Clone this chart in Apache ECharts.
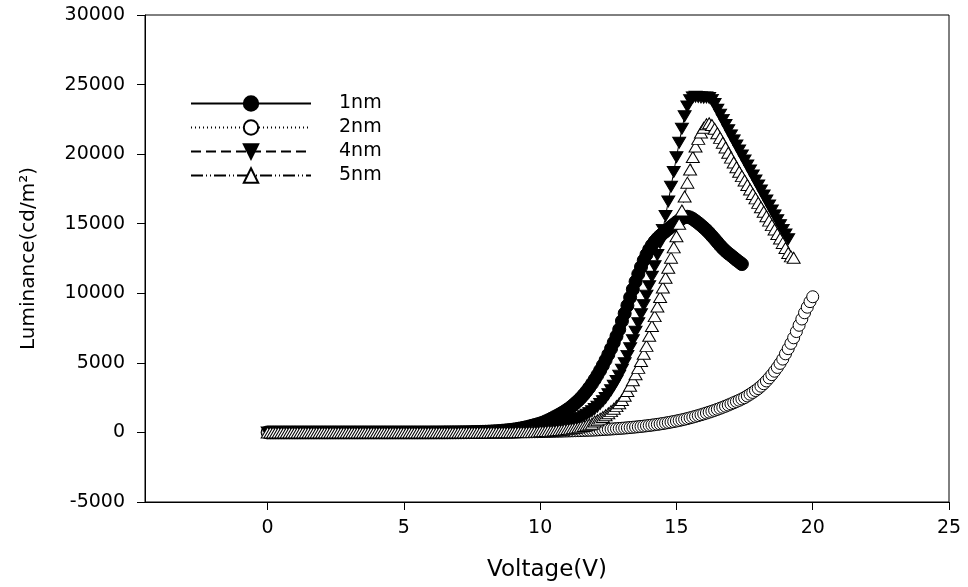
<!DOCTYPE html>
<html><head><meta charset="utf-8">
<script src="https://cdn.jsdelivr.net/npm/echarts@6/dist/echarts.min.js"></script>
<style>html,body{margin:0;padding:0;background:#fff}#c{width:968px;height:587px}</style>
</head><body><div id="c"></div>
<script>
const seriesNames = ['1nm', '2nm', '4nm', '5nm'];
const xTickValues = [0, 5, 10, 15, 20, 25];
const xMin = -4.5, xMax = 25;
const yMin = -5000, yMax = 30000, yStep = 5000;
const xTitle = 'Voltage(V)';
const yTitle = 'Luminance(cd/m²)';

const voltage = [
0,0.1,0.2,0.3,0.4,0.5,0.6,0.7,0.8,0.9,
1,1.1,1.2,1.3,1.4,1.5,1.6,1.7,1.8,1.9,
2,2.1,2.2,2.3,2.4,2.5,2.6,2.7,2.8,2.9,
3,3.1,3.2,3.3,3.4,3.5,3.6,3.7,3.8,3.9,
4,4.1,4.2,4.3,4.4,4.5,4.6,4.7,4.8,4.9,
5,5.1,5.2,5.3,5.4,5.5,5.6,5.7,5.8,5.9,
6,6.1,6.2,6.3,6.4,6.5,6.6,6.7,6.8,6.9,
7,7.1,7.2,7.3,7.4,7.5,7.6,7.7,7.8,7.9,
8,8.1,8.2,8.3,8.4,8.5,8.6,8.7,8.8,8.9,
9,9.1,9.2,9.3,9.4,9.5,9.6,9.7,9.8,9.9,
10,10.1,10.2,10.3,10.4,10.5,10.6,10.7,10.8,10.9,
11,11.1,11.2,11.3,11.4,11.5,11.6,11.7,11.8,11.9,
12,12.1,12.2,12.3,12.4,12.5,12.6,12.7,12.8,12.9,
13,13.1,13.2,13.3,13.4,13.5,13.6,13.7,13.8,13.9,
14,14.1,14.2,14.3,14.4,14.5,14.6,14.7,14.8,14.9,
15,15.1,15.2,15.3,15.4,15.5,15.6,15.7,15.8,15.9,
16,16.1,16.2,16.3,16.4,16.5,16.6,16.7,16.8,16.9,
17,17.1,17.2,17.3,17.4,17.5,17.6,17.7,17.8,17.9,
18,18.1,18.2,18.3,18.4,18.5,18.6,18.7,18.8,18.9,
19,19.1,19.2,19.3,19.4,19.5,19.6,19.7,19.8,19.9,
20
];

const lum1nm = [
0,0,0,0,0,0,0,0,0,0,
0,0,0,0,0,0,0,0,0,0,
0,0,0,0,0,0,0,0,0,0,
0,0,0,0,0,0,0,0,0,0,
0,0,0,0,0,0,0,0,0,0,
0,0,0,0,0,0,0,0,0,0,
1,2,2,3,3,4,5,6,7,8,
10,12,14,17,20,24,28,33,38,44,
50,58,67,78,90,104,120,138,158,178,
200,228,260,296,336,380,428,480,530,585,
640,710,790,880,980,1080,1180,1290,1400,1520,
1650,1790,1950,2120,2300,2500,2720,2960,3220,3500,
3800,4120,4460,4820,5200,5600,6020,6460,6920,7400,
8000,8550,9120,9700,10280,10840,11380,11890,12360,12780,
13150,13460,13720,13940,14130,14300,14460,14620,14780,14940,
15100,15240,15380,15480,15500,15450,15340,15200,15050,14890,
14720,14540,14340,14120,13900,13670,13440,13230,13040,12870,
12720,12560,12400,12250,12100
];

const lum2nm = [
0,0,0,0,0,0,0,0,0,0,
0,0,0,0,0,0,0,0,0,0,
0,0,0,0,0,0,0,0,0,0,
0,0,0,0,0,0,0,0,0,0,
0,0,0,0,0,0,0,0,0,0,
0,0,0,0,0,0,0,0,0,0,
0,0,0,0,0,0,0,0,0,0,
1,1,2,2,3,3,4,5,5,6,
7,8,9,10,12,13,15,17,19,21,
23,26,29,32,35,38,42,46,50,55,
60,64,68,72,76,80,85,90,95,100,
105,111,117,123,129,135,142,149,156,163,
170,181,193,205,217,230,243,257,271,285,
300,316,333,351,370,390,410,431,453,476,
500,525,551,578,608,640,673,707,743,781,
820,861,904,949,997,1050,1102,1156,1212,1270,
1330,1392,1456,1522,1590,1660,1734,1810,1888,1968,
2050,2135,2222,2312,2405,2500,2620,2745,2875,3010,
3150,3320,3500,3700,3920,4150,4400,4670,4960,5270,
5650,6020,6400,6800,7250,7700,8150,8600,9000,9400,
9750
];

const lum4nm = [
0,0,0,0,0,0,0,0,0,0,
0,0,0,0,0,0,0,0,0,0,
0,0,0,0,0,0,0,0,0,0,
0,0,0,0,0,0,0,0,0,0,
0,0,0,0,0,0,0,0,0,0,
0,0,0,0,0,0,0,0,0,0,
0,0,0,0,0,0,0,0,0,0,
1,2,2,3,4,5,6,7,9,11,
13,15,18,21,25,29,34,39,45,52,
60,69,79,90,102,116,131,148,167,188,
240,265,292,322,355,390,430,475,525,580,
660,730,805,885,970,1060,1160,1270,1390,1520,
1680,1850,2040,2250,2480,2740,3030,3350,3700,4080,
4500,4980,5500,6050,6630,7230,7850,8490,9150,9830,
10500,11200,11950,12750,13620,14560,15560,16600,17660,18720,
19780,20820,21820,22720,23420,23880,24080,24120,24100,24080,
24060,24080,24040,23900,23600,23200,22830,22460,22090,21720,
21350,20990,20630,20270,19910,19550,19190,18830,18470,18110,
17750,17390,17030,16670,16310,15950,15600,15250,14900,14560,
14220,13880
];

const lum5nm = [
0,0,0,0,0,0,0,0,0,0,
0,0,0,0,0,0,0,0,0,0,
0,0,0,0,0,0,0,0,0,0,
0,0,0,0,0,0,0,0,0,0,
0,0,0,0,0,0,0,0,0,0,
0,0,0,0,0,0,0,0,0,0,
0,0,0,0,0,0,0,0,0,0,
0,1,1,1,2,2,2,3,3,4,
4,5,6,7,8,9,10,12,14,16,
18,20,23,26,29,33,37,41,46,51,
80,90,100,112,125,140,157,176,197,220,
245,273,304,338,375,416,461,510,564,623,
780,880,990,1110,1240,1380,1530,1700,1890,2100,
2330,2640,2980,3350,3750,4180,4640,5130,5660,6220,
6950,7650,8360,9050,9730,10420,11120,11830,12560,13300,
14100,15000,15950,16950,17950,18900,19800,20550,21100,21550,
21900,22150,22220,22100,21820,21500,21170,20820,20480,20100,
19750,19400,19060,18740,18420,18100,17780,17460,17140,16820,
16500,16180,15860,15540,15220,14900,14580,14260,13940,13620,
13250,12900,12650,12550
];

const FONT = 'DejaVu Sans';
function pairs(lum) { return lum.map((y, i) => [voltage[i], y]); }

const chart = echarts.init(document.getElementById('c'), null, { renderer: 'canvas' });

const common = { type: 'line', showAllSymbol: true, animation: false, emphasis: { disabled: true }, clip: true };

chart.setOption({
  animation: false,
  backgroundColor: '#fff',
  textStyle: { fontFamily: FONT, color: '#000' },
  grid: { left: 145, right: 19, top: 15, bottom: 85, show: true, borderColor: '#000', borderWidth: 1, backgroundColor: 'transparent' },
  legend: {
    data: seriesNames, left: 190, top: 94, orient: 'vertical', padding: 0,
    itemWidth: 120, itemHeight: 18, itemGap: 5,
    textStyle: { fontFamily: FONT, fontSize: 19, color: '#000', padding: [0, 0, 0, 23], lineHeight: 18 }
  },
  xAxis: {
    type: 'value', min: xMin, max: xMax,
    name: xTitle, nameLocation: 'middle', nameGap: 57,
    nameTextStyle: { fontFamily: FONT, fontSize: 23, color: '#000' },
    axisLine: { show: true, onZero: false, lineStyle: { color: '#000', width: 1 } },
    axisTick: { show: true, inside: false, length: 8, customValues: xTickValues, lineStyle: { color: '#000' } },
    axisLabel: { show: true, customValues: xTickValues, margin: 17, fontFamily: FONT, fontSize: 19, color: '#000', formatter: v => String(v) },
    splitLine: { show: false }
  },
  yAxis: {
    type: 'value', min: yMin, max: yMax, interval: yStep,
    name: yTitle, nameLocation: 'middle', nameGap: 106,
    nameTextStyle: { fontFamily: FONT, fontSize: 20, color: '#000' },
    axisLine: { show: true, onZero: false, lineStyle: { color: '#000', width: 1 } },
    axisTick: { show: true, inside: false, length: 8, lineStyle: { color: '#000' } },
    axisLabel: { margin: 20, fontFamily: FONT, fontSize: 19, color: '#000', formatter: v => String(v) },
    splitLine: { show: false }
  },
  series: [
    Object.assign({}, common, {
      name: seriesNames[0], data: pairs(lum1nm), symbol: 'circle', symbolSize: 13,
      itemStyle: { color: '#000', borderColor: '#000', borderWidth: 1 },
      lineStyle: { color: '#000', width: 1, type: 'solid' }
    }),
    Object.assign({}, common, {
      name: seriesNames[1], data: pairs(lum2nm), symbol: 'circle', symbolSize: 12,
      itemStyle: { color: '#fff', borderColor: '#000', borderWidth: 1 },
      lineStyle: { color: '#000', width: 1, type: [1, 3] }
    }),
    Object.assign({}, common, {
      name: seriesNames[2], data: pairs(lum4nm), symbol: 'path://M0,0L10,0L5,9Z', symbolSize: [13, 11],
      itemStyle: { color: '#000', borderColor: '#000', borderWidth: 1 },
      lineStyle: { color: '#000', width: 1, type: [10, 5] }
    }),
    Object.assign({}, common, {
      name: seriesNames[3], data: pairs(lum5nm), symbol: 'triangle', symbolSize: [13, 11],
      itemStyle: { color: '#fff', borderColor: '#000', borderWidth: 1 },
      lineStyle: { color: '#000', width: 1, type: [12, 3, 1, 3, 1, 3] }
    })
  ]
});
</script></body></html>
